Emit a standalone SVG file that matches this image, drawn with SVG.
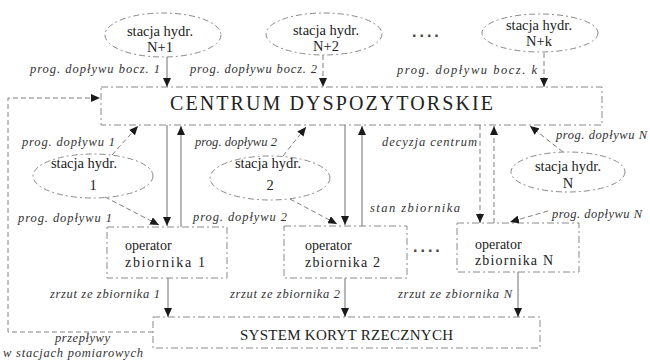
<svg xmlns="http://www.w3.org/2000/svg" width="650" height="360" viewBox="0 0 650 360">
<style>
  .bg{fill:#ffffff}
  .box{fill:none;stroke:#8a8a8a;stroke-width:1;stroke-dasharray:7 3 2 3}
  .ell{fill:none;stroke:#8a8a8a;stroke-width:1;stroke-dasharray:6 3 2 3}
  .cn{fill:none;stroke:#707070;stroke-width:1}
  .cd{fill:none;stroke:#808080;stroke-width:1;stroke-dasharray:5 3}
  .t{font-family:"Liberation Serif","Times New Roman",serif;fill:#222}
  .st{font-size:14.5px;text-anchor:middle}
  .lb{font-size:12.5px;font-style:italic;fill:#333}
  .big{font-size:20px}
  .sys{font-size:15px}
  .dots{font-family:"Liberation Sans",Arial,sans-serif;font-size:16px;font-weight:bold;fill:#444}
</style>
<defs>
  <marker id="ah" markerWidth="9" markerHeight="8" refX="9" refY="4" orient="auto" markerUnits="userSpaceOnUse">
    <path d="M0,0 L9,4 L0,8 Z" fill="#1a1a1a"/>
  </marker>
</defs>
<rect class="bg" x="0" y="0" width="650" height="360"/>

<g id="stacja-N1">
  <ellipse class="ell" cx="163" cy="35" rx="58" ry="22"/>
  <text class="t st" x="160" y="36">stacja hydr.</text>
  <text class="t st" x="160" y="52">N+1</text>
</g>
<g id="stacja-N2">
  <ellipse class="ell" cx="324" cy="34" rx="58" ry="21"/>
  <text class="t st" x="326" y="35">stacja hydr.</text>
  <text class="t st" x="326" y="51">N+2</text>
</g>
<text class="dots" x="412" y="37" letter-spacing="3">....</text>
<g id="stacja-Nk">
  <ellipse class="ell" cx="540" cy="33" rx="58" ry="19"/>
  <text class="t st" x="539" y="30">stacja hydr.</text>
  <text class="t st" x="539" y="46">N+k</text>
</g>

<g id="centrum">
  <rect class="box" x="101" y="87" width="501" height="38"/>
  <text class="t big" x="170" y="110" textLength="323">CENTRUM DYSPOZYTORSKIE</text>
</g>

<g id="stacja-1">
  <ellipse class="ell" cx="93" cy="176" rx="60" ry="22"/>
  <text class="t st" x="84" y="168">stacja hydr.</text>
  <text class="t st" x="93" y="190">1</text>
</g>
<g id="stacja-2">
  <ellipse class="ell" cx="270" cy="178" rx="60" ry="22"/>
  <text class="t st" x="268" y="168">stacja hydr.</text>
  <text class="t st" x="270" y="190">2</text>
</g>
<g id="stacja-N">
  <ellipse class="ell" cx="568" cy="172" rx="57" ry="20"/>
  <text class="t st" x="568" y="171">stacja hydr.</text>
  <text class="t st" x="568" y="188">N</text>
</g>

<g id="operator-1">
  <rect class="box" x="107" y="227" width="120" height="51"/>
  <text class="t" font-size="14" x="125" y="250">operator</text>
  <text class="t" font-size="14" x="125" y="267" textLength="80">zbiornika 1</text>
</g>
<g id="operator-2">
  <rect class="box" x="284" y="226" width="123" height="52"/>
  <text class="t" font-size="14" x="305" y="250">operator</text>
  <text class="t" font-size="14" x="305" y="267" textLength="75">zbiornika 2</text>
</g>
<text class="dots" x="413" y="252" letter-spacing="3">....</text>
<g id="operator-N">
  <rect class="box" x="457" y="223" width="122" height="49"/>
  <text class="t" font-size="14" x="475" y="249">operator</text>
  <text class="t" font-size="14" x="475" y="265" textLength="78">zbiornika N</text>
</g>

<g id="system">
  <rect class="box" x="153" y="317" width="387" height="31"/>
  <text class="t sys" x="240" y="340" textLength="213">SYSTEM KORYT RZECZNYCH</text>
</g>

<g id="connectors">
  <line class="cn" x1="167" y1="57" x2="167" y2="87" marker-end="url(#ah)"/>
  <line class="cd" x1="323" y1="55" x2="323" y2="87" marker-end="url(#ah)"/>
  <line class="cd" x1="544" y1="53" x2="544" y2="87" marker-end="url(#ah)"/>

  <line class="cd" x1="112" y1="155" x2="138" y2="126" marker-end="url(#ah)"/>
  <line class="cd" x1="283" y1="156" x2="306" y2="127" marker-end="url(#ah)"/>
  <line class="cd" x1="563" y1="152" x2="530" y2="126" marker-end="url(#ah)"/>

  <line class="cd" x1="105" y1="197" x2="159" y2="225" marker-end="url(#ah)"/>
  <line class="cd" x1="290" y1="199" x2="337" y2="224" marker-end="url(#ah)"/>
  <line class="cd" x1="548" y1="211" x2="510" y2="222" marker-end="url(#ah)"/>

  <line class="cn" x1="167" y1="125" x2="167" y2="226" marker-end="url(#ah)"/>
  <line class="cn" x1="181" y1="227" x2="181" y2="126" marker-end="url(#ah)"/>
  <line class="cn" x1="345" y1="125" x2="345" y2="225" marker-end="url(#ah)"/>
  <line class="cn" x1="362" y1="226" x2="362" y2="126" marker-end="url(#ah)"/>
  <line class="cd" x1="480" y1="125" x2="480" y2="223" marker-end="url(#ah)"/>
  <line class="cd" x1="494" y1="223" x2="494" y2="126" marker-end="url(#ah)"/>

  <line class="cn" x1="168" y1="278" x2="168" y2="317" marker-end="url(#ah)"/>
  <line class="cn" x1="345" y1="278" x2="345" y2="317" marker-end="url(#ah)"/>
  <line class="cn" x1="518" y1="272" x2="518" y2="317" marker-end="url(#ah)"/>

  <polyline class="cd" points="153,332 8,332 8,98 100,98" marker-end="url(#ah)"/>
</g>

<g id="labels">
  <text class="t lb" x="30" y="73" textLength="130">prog. dopływu bocz. 1</text>
  <text class="t lb" x="190" y="73" textLength="127">prog. dopływu bocz. 2</text>
  <text class="t lb" x="397" y="74" textLength="140">prog. dopływu bocz. k</text>
  <text class="t lb" x="22" y="146" textLength="93">prog. dopływu 1</text>
  <text class="t lb" x="195" y="146" textLength="82">prog. dopływu 2</text>
  <text class="t lb" x="556" y="139" textLength="91">prog. dopływu N</text>
  <text class="t lb" x="382" y="146" textLength="95">decyzja centrum</text>
  <text class="t lb" x="370" y="212" textLength="90">stan zbiornika</text>
  <text class="t lb" x="18" y="222" textLength="94">prog. dopływu 1</text>
  <text class="t lb" x="193" y="221" textLength="94">prog. dopływu 2</text>
  <text class="t lb" x="552" y="218" textLength="90">prog. dopływu N</text>
  <text class="t lb" x="50" y="298" textLength="110">zrzut ze zbiornika 1</text>
  <text class="t lb" x="230" y="298" textLength="110">zrzut ze zbiornika 2</text>
  <text class="t lb" x="398" y="298" textLength="114">zrzut ze zbiornika N</text>
  <text class="t lb" x="55" y="342" textLength="55">przepływy</text>
  <text class="t lb" x="3" y="357" textLength="140">w stacjach pomiarowych</text>
</g>
</svg>
